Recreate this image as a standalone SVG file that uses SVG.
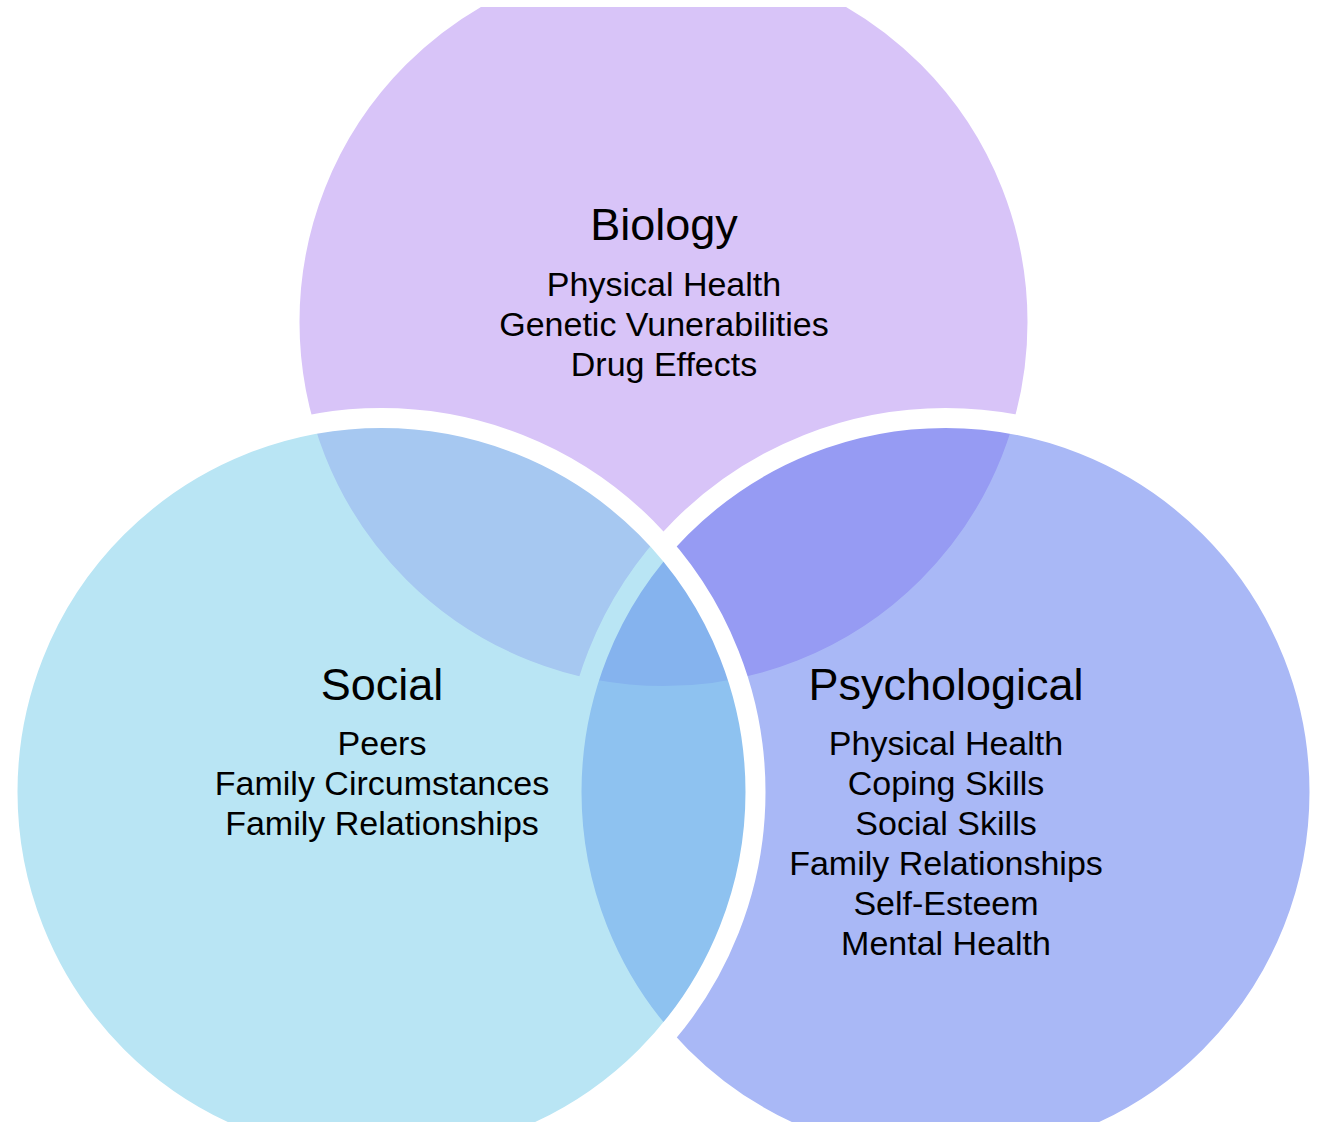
<svg xmlns="http://www.w3.org/2000/svg" width="1322" height="1127" viewBox="0 0 1322 1127">
  <style>
    .ring { stroke: #ffffff; stroke-width: 20; fill-opacity: 0.5; }
    .title { font-family: "Liberation Sans", Arial, sans-serif; font-size: 45px; fill: #000000; text-anchor: middle; }
    .item { font-family: "Liberation Sans", Arial, sans-serif; font-size: 34px; fill: #000000; text-anchor: middle; }
  </style>
  <defs>
    <clipPath id="frame">
      <rect x="0" y="7" width="1322" height="1115"/>
    </clipPath>
  </defs>
  <rect width="1322" height="1127" fill="#ffffff"/>
  <g clip-path="url(#frame)">
    <!-- each circle: half-transparent fill, opaque white outer band -->
    <g id="biology">
      <circle class="ring" cx="663.5" cy="322" r="374" fill="#b189f1"/>
      <text class="title" x="664" y="240">Biology</text>
      <text class="item" x="664" y="296">Physical Health</text>
      <text class="item" x="664" y="336">Genetic Vunerabilities</text>
      <text class="item" x="664" y="376">Drug Effects</text>
    </g>
    <g id="psychological">
      <circle class="ring" cx="945.5" cy="792" r="374" fill="#5371ed"/>
      <text class="title" x="946" y="700">Psychological</text>
      <text class="item" x="946" y="755">Physical Health</text>
      <text class="item" x="946" y="795">Coping Skills</text>
      <text class="item" x="946" y="835">Social Skills</text>
      <text class="item" x="946" y="875">Family Relationships</text>
      <text class="item" x="946" y="915">Self-Esteem</text>
      <text class="item" x="946" y="955">Mental Health</text>
    </g>
    <g id="social">
      <circle class="ring" cx="381.5" cy="792" r="374" fill="#73cbe9"/>
      <text class="title" x="382" y="700">Social</text>
      <text class="item" x="382" y="755">Peers</text>
      <text class="item" x="382" y="795">Family Circumstances</text>
      <text class="item" x="382" y="835">Family Relationships</text>
    </g>
  </g>
  <g id="connectors"/>
</svg>
